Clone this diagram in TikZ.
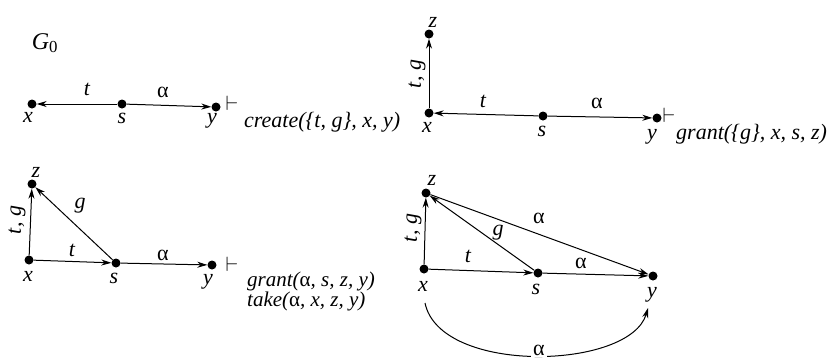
\documentclass[tikz,border=0pt]{standalone}
\usepackage{fontspec}
\setmainfont{Liberation Serif}
\usetikzlibrary{arrows.meta}
\begin{document}
\begin{tikzpicture}[x=1pt,y=-1pt,
  dot/.style={circle,fill=black,inner sep=0pt,minimum size=9pt},
  lab/.style={font=\fontsize{22}{26}\selectfont\itshape,inner sep=0pt,anchor=base},
  glab/.style={font=\fontsize{22}{26}\selectfont,inner sep=0pt,anchor=base},
  op/.style={font=\fontsize{22}{26}\selectfont\itshape,inner sep=0pt,anchor=base west},
  turn/.style={font=\fontsize{22}{26}\selectfont,inner sep=0pt},
  edge/.style={line width=1pt,-{Stealth[length=10pt,width=6pt]}}
]
\useasboundingbox (0,0) rectangle (838,360);
% ---------- panel 1
\node[font=\fontsize{24}{28}\selectfont,inner sep=0pt] (G0) at (45,43) {\textit{G}\textsubscript{0}};
\node[dot] (x1) at (32,104) {};
\node[dot] (s1) at (122,104) {};
\node[dot] (y1) at (216,107) {};
\node[lab] (x1l) at (28,122) {x};
\node[lab] (s1l) at (122,123) {s};
\node[lab] (y1l) at (212,123) {y};
\draw[edge] (s1) -- (x1);
\draw[edge] (s1) -- (y1);
\node[lab] (t1) at (87,95) {t};
\node[glab] (a1) at (163,97) {α};
\node[turn] (v1) at (232,103) {$\vdash$};
\node[op] (c1) at (244,127) {create(\{t, g\}, x, y)};
% ---------- panel 2
\node[dot] (z2) at (429,34) {};
\node[dot] (x2) at (429,113) {};
\node[dot] (s2) at (543,116) {};
\node[dot] (y2) at (657,118) {};
\node[lab] (z2l) at (433,27) {z};
\node[lab] (x2l) at (427,132) {x};
\node[lab] (s2l) at (542,136) {s};
\node[lab] (y2l) at (652,139) {y};
\draw[edge] (x2) -- (z2);
\draw[edge] (s2) -- (x2);
\draw[edge] (s2) -- (y2);
\node[lab,anchor=center,rotate=90] (tg2) at (417,74) {t, g};
\node[lab] (t2) at (483,107) {t};
\node[glab] (a2) at (597,108) {α};
\node[turn] (v2) at (669,115) {$\vdash$};
\node[op] (c2) at (676,139) {grant(\{g\}, x, s, z)};
% ---------- panel 3
\node[dot] (z3) at (32,184) {};
\node[dot] (x3) at (29,260) {};
\node[dot] (s3) at (116,263) {};
\node[dot] (y3) at (212,265) {};
\node[lab] (z3l) at (36,177) {z};
\node[lab] (x3l) at (28,281) {x};
\node[lab] (s3l) at (114,283) {s};
\node[lab] (y3l) at (208,284) {y};
\draw[edge] (x3) -- (z3);
\draw[edge] (s3) -- (z3);
\draw[edge] (x3) -- (s3);
\draw[edge] (s3) -- (y3);
\node[lab,anchor=center,rotate=90] (tg3) at (17,220) {t, g};
\node[lab] (g3) at (80,208) {g};
\node[lab] (t3) at (72,256) {t};
\node[glab] (a3) at (163,260) {α};
\node[turn] (v3) at (232,264) {$\vdash$};
\node[inner sep=0pt,anchor=north west,align=left,
      font={\fontsize{21}{20}\selectfont\itshape\lineskiplimit=-30pt}] (c3) at (247,272)
  {grant({\upshape α}, s, z, y)\\take({\upshape α}, x, z, y)};
% ---------- panel 4
\node[dot] (z4) at (426,193) {};
\node[dot] (x4) at (424,269) {};
\node[dot] (s4) at (538,273) {};
\node[dot] (y4) at (653,276) {};
\node[lab] (z4l) at (432,185) {z};
\node[lab] (x4l) at (423,291) {x};
\node[lab] (s4l) at (536,294) {s};
\node[lab] (y4l) at (652,297) {y};
\draw[edge] (x4) -- (z4);
\draw[edge] (s4) -- (z4);
\draw[edge] (z4) -- (y4);
\draw[edge] (x4) -- (s4);
\draw[edge] (s4) -- (y4);
\node[lab,anchor=center,rotate=90] (tg4) at (413,228) {t, g};
\node[glab] (a4) at (539,223) {α};
\node[lab] (g4) at (498,235) {g};
\node[lab] (t4) at (468,262) {t};
\node[glab] (a5) at (581,268) {α};
\coordinate (arcA) at (425,303);
\coordinate (arcB) at (648,308);
\draw[edge] (arcA) .. controls (440,375) and (630,370) .. (arcB);
\node[glab,fill=white,inner sep=2pt] (a6) at (539,355) {α};
\end{tikzpicture}
\end{document}
